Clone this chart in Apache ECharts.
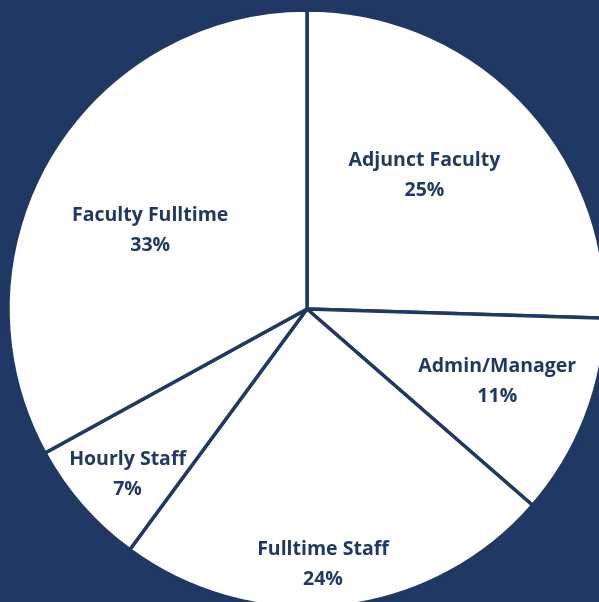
<!DOCTYPE html>
<html>
<head>
<meta charset="utf-8">
<script src="https://cdn.jsdelivr.net/npm/echarts@6/dist/echarts.min.js"></script>
<style>
  html, body { margin: 0; padding: 0; background: #203864; }
  #main { width: 599px; height: 602px; }
</style>
</head>
<body>
<div id="main"></div>
<script>
var categories = ['Adjunct Faculty', 'Admin/Manager', 'Fulltime Staff', 'Hourly Staff', 'Faculty Fulltime'];
var shares = [25.49, 10.9, 23.7, 6.9, 32.99];

// where Excel dropped each label: [distance from centre, angle clockwise from 12 o'clock]
var labelSpots = [[179, 41.0], [203, 110.4], [254, 176.4], [243, 227.6], [176, 297.0]];

var navy = '#203864';
var cx = 307, cy = 309;

var myChart = echarts.init(document.getElementById('main'));

var pieData = categories.map(function (name, i) {
    return { name: name, value: shares[i] };
});

var option = {
    backgroundColor: navy,
    animation: false,
    series: [{
        type: 'pie',
        center: [cx, cy],
        radius: 299,
        startAngle: 90,
        clockwise: true,
        data: pieData,
        itemStyle: {
            color: '#ffffff',
            borderColor: navy,
            borderWidth: 3.5
        },
        emphasis: { disabled: true },
        label: {
            show: true,
            position: 'inside',
            color: navy,
            fontFamily: 'Open Sans',
            fontWeight: 'bold',
            fontSize: 19.5,
            lineHeight: 30,
            formatter: function (p) {
                return p.name + '\n' + Math.round(p.value) + '%';
            }
        },
        labelLine: { show: false },
        labelLayout: function (params) {
            var spot = labelSpots[params.dataIndex];
            var a = spot[1] * Math.PI / 180;
            return {
                x: cx + spot[0] * Math.sin(a),
                y: cy + 1.5 - spot[0] * Math.cos(a),
                align: 'center',
                verticalAlign: 'middle'
            };
        }
    }]
};

myChart.setOption(option);
</script>
</body>
</html>
